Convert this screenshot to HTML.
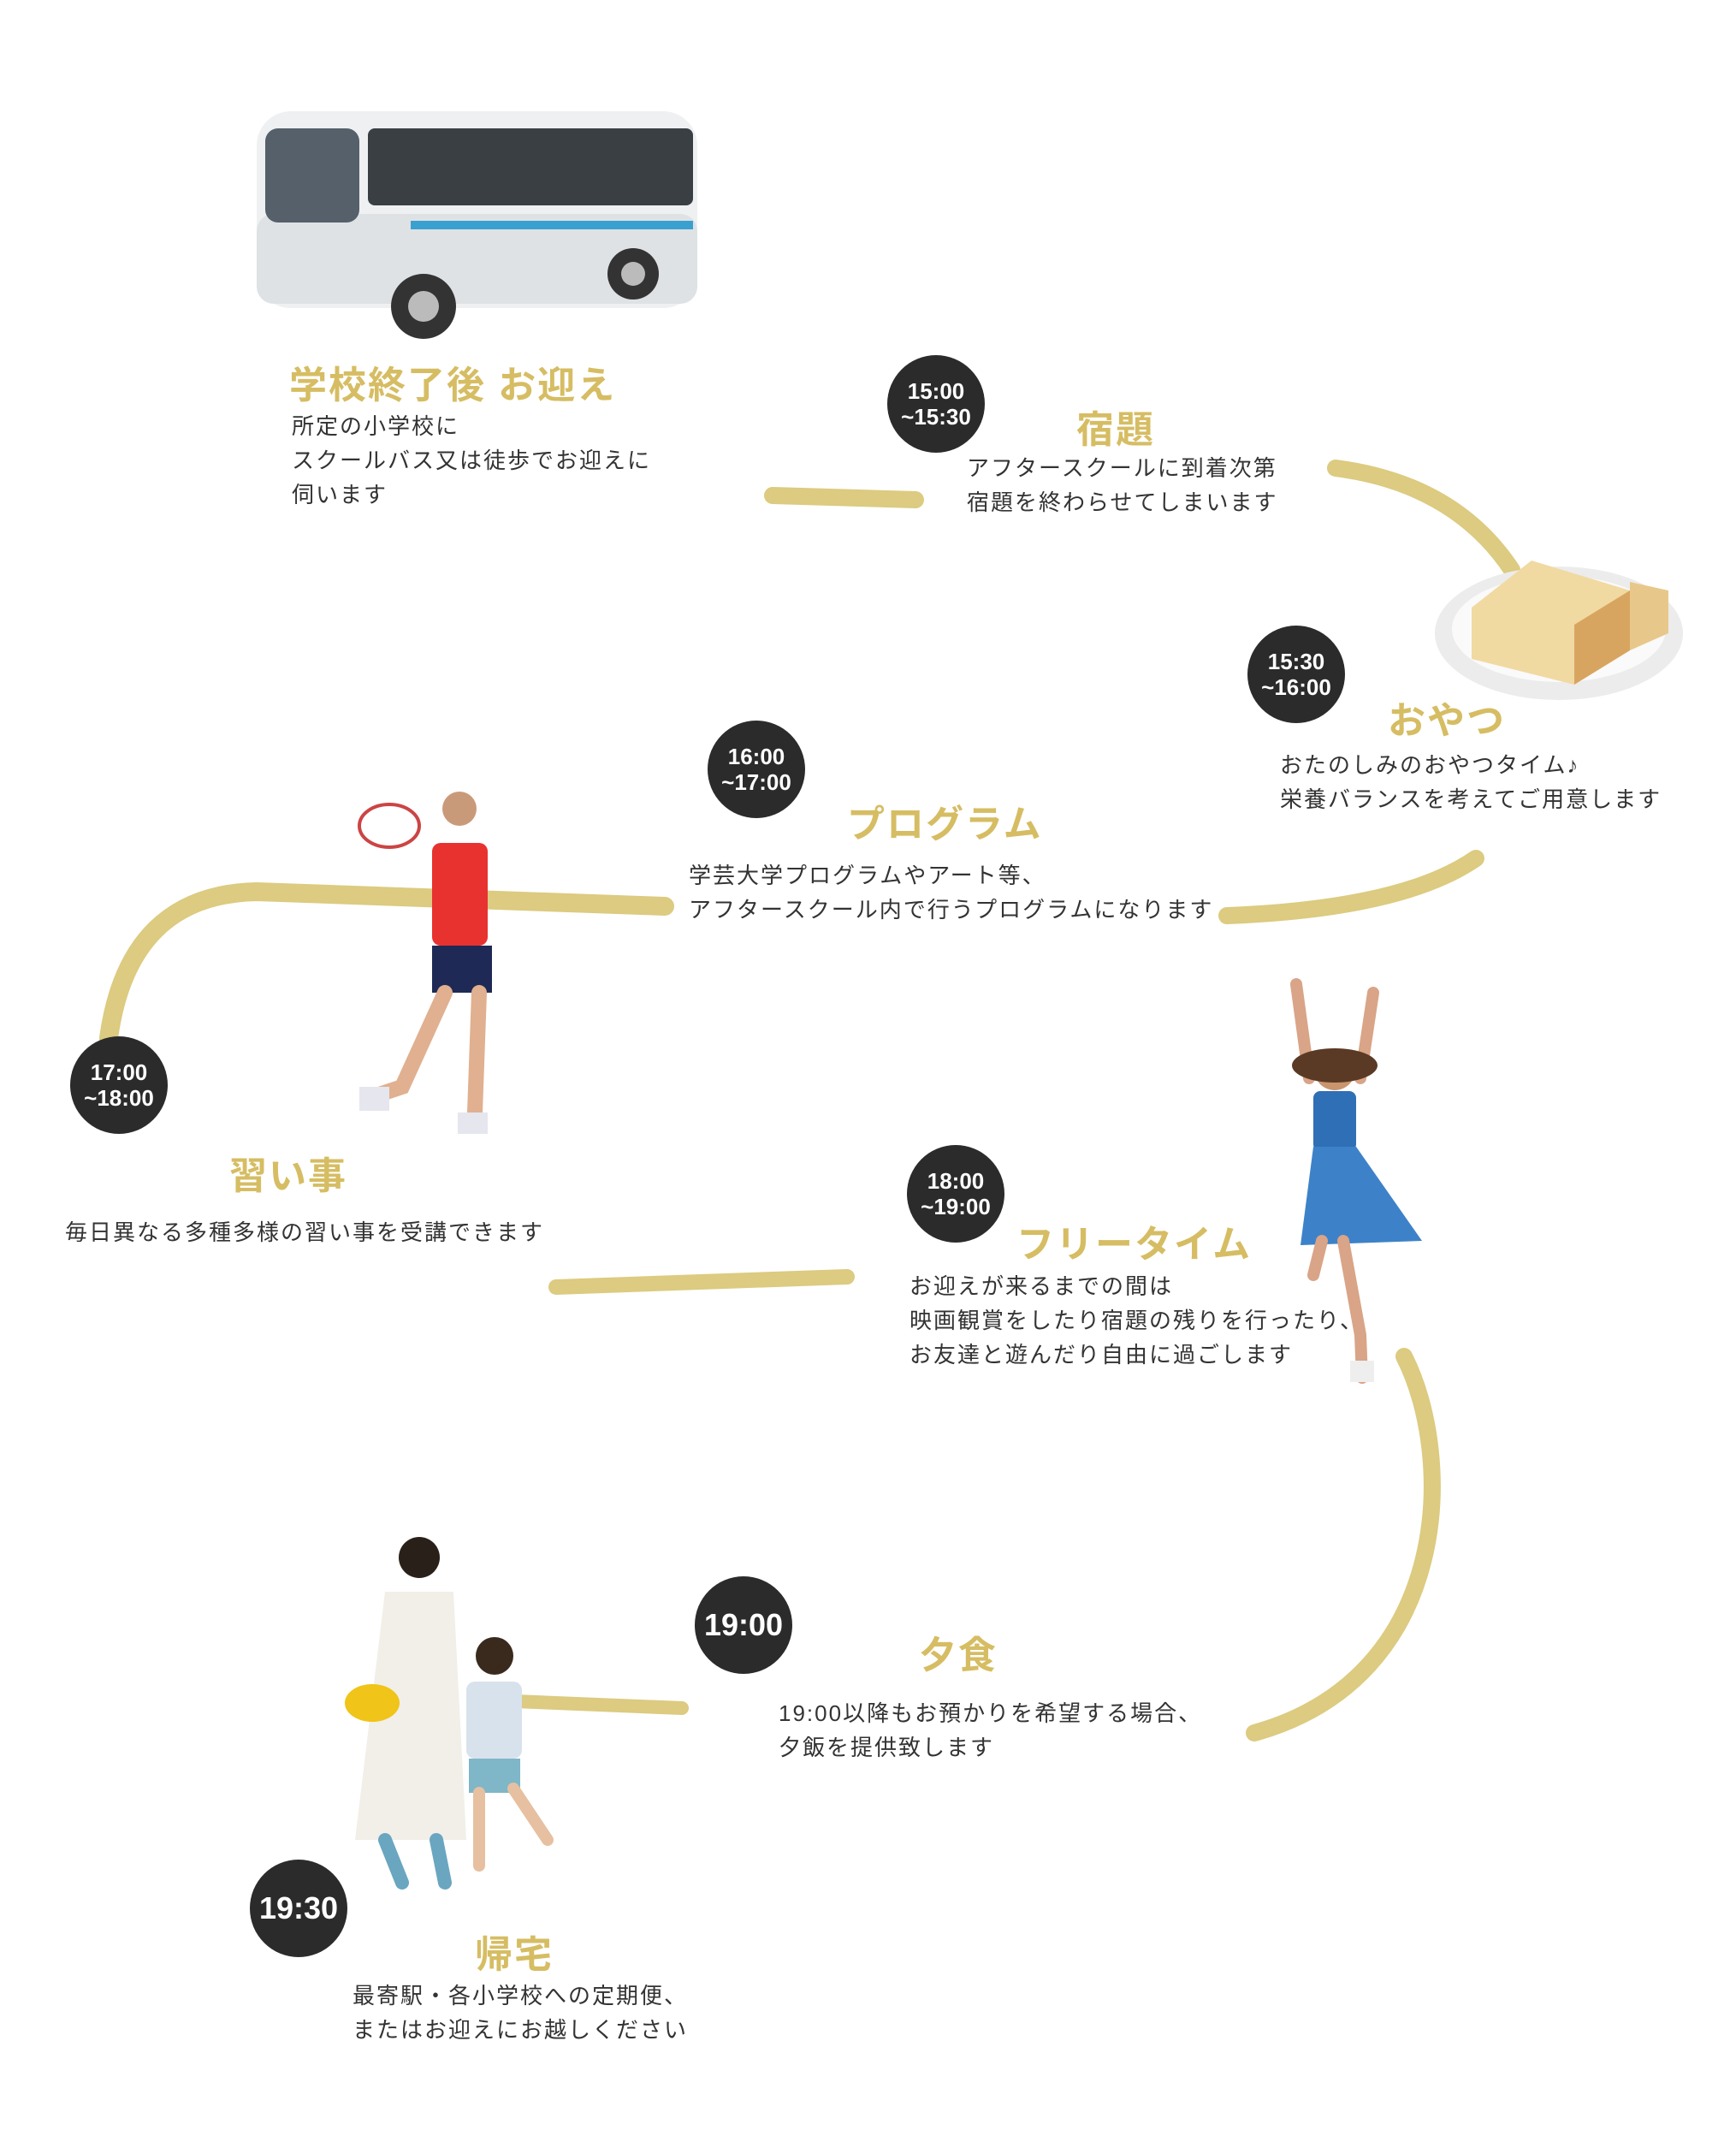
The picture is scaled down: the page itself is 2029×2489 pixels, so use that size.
<!DOCTYPE html>
<html><head><meta charset="utf-8"><style>
html,body{margin:0;padding:0;background:#fff;}
body{width:2029px;height:2489px;position:relative;overflow:hidden;font-family:"Liberation Sans","Noto Sans CJK JP",sans-serif;}
.t{position:absolute;color:#d6bd63;font-weight:bold;font-size:44px;white-space:nowrap;letter-spacing:2px;}
.b{position:absolute;color:#333;font-size:26px;line-height:40px;letter-spacing:2px;white-space:nowrap;}
.c{position:absolute;width:114px;height:114px;border-radius:50%;background:#2b2b2b;color:#fff;font-family:"Liberation Sans Narrow","Liberation Sans",sans-serif;font-weight:bold;font-size:26px;line-height:30px;text-align:center;display:flex;flex-direction:column;justify-content:center;}
.c.big{font-size:36px;}
svg{position:absolute;left:0;top:0;}
</style></head><body>
<svg width="2029" height="2489" fill="none" stroke="#dccb80" stroke-linecap="round">
<path d="M903,579 L1070,584" stroke-width="20"/>
<path d="M1561,547 Q1700,565 1767,666" stroke-width="20"/>
<path d="M1725,1003 Q1640,1062 1434,1070" stroke-width="20"/>
<path d="M777,1059 L300,1042 Q150,1045 127,1213" stroke-width="22"/>
<path d="M650,1504 L990,1492" stroke-width="18"/>
<path d="M1641,1585 C1700,1700 1700,1960 1466,2025" stroke-width="20"/>
<path d="M602,1988 L797,1996" stroke-width="16"/>
<g stroke="none">
<rect x="300" y="130" width="515" height="230" rx="40" fill="#eef0f2"/>
<rect x="300" y="250" width="515" height="105" rx="20" fill="#dfe2e5"/>
<rect x="430" y="150" width="380" height="90" rx="8" fill="#3a3f44"/>
<rect x="310" y="150" width="110" height="110" rx="15" fill="#55606a"/>
<rect x="480" y="258" width="330" height="10" fill="#3aa0d0"/>
<circle cx="495" cy="358" r="38" fill="#333"/><circle cx="495" cy="358" r="18" fill="#bbb"/>
<circle cx="740" cy="320" r="30" fill="#333"/><circle cx="740" cy="320" r="14" fill="#bbb"/>
</g>
<g stroke="none">
<ellipse cx="1822" cy="740" rx="145" ry="78" fill="#ececec"/>
<ellipse cx="1822" cy="735" rx="125" ry="62" fill="#fafafa"/>
<path d="M1720,710 L1790,655 L1905,690 L1905,760 L1840,800 L1720,770 Z" fill="#f1d9a2"/>
<path d="M1840,730 L1905,690 L1905,760 L1840,800 Z" fill="#d8a560"/>
<path d="M1905,680 L1950,690 L1950,740 L1905,760 Z" fill="#e8c88a"/>
</g>
<g stroke="none">
<ellipse cx="455" cy="965" rx="35" ry="25" fill="none" stroke="#c44" stroke-width="4"/>
<circle cx="537" cy="945" r="20" fill="#c99a7a"/>
<rect x="505" y="985" width="65" height="120" rx="10" fill="#e8322f"/>
<rect x="505" y="1105" width="70" height="55" fill="#1e2a55"/>
<path d="M520,1160 L470,1270 L440,1280" stroke="#e0b090" stroke-width="18"/>
<path d="M560,1160 L555,1300" stroke="#e0b090" stroke-width="18"/>
<rect x="420" y="1270" width="35" height="28" fill="#e6e6ee"/><rect x="535" y="1300" width="35" height="25" fill="#e6e6ee"/>
</g>
<g stroke="none">
<path d="M1515,1150 L1530,1260 M1605,1160 L1590,1260" stroke="#d9a487" stroke-width="14"/>
<circle cx="1560" cy="1250" r="24" fill="#c9956f"/>
<ellipse cx="1560" cy="1245" rx="50" ry="20" fill="#5a3a25"/>
<rect x="1535" y="1275" width="50" height="70" rx="8" fill="#2f6fb5"/>
<path d="M1535,1340 L1585,1340 L1662,1450 L1520,1455 Z" fill="#3d82c8"/>
<path d="M1570,1450 L1590,1560 L1592,1610" stroke="#d9a487" stroke-width="14"/>
<path d="M1545,1450 L1535,1490" stroke="#d9a487" stroke-width="14"/>
<rect x="1578" y="1590" width="28" height="25" fill="#eee"/>
</g>
<g stroke="none">
<circle cx="490" cy="1820" r="24" fill="#2a201a"/>
<path d="M450,1860 L530,1860 L545,2150 L415,2150 Z" fill="#f1efe8"/>
<path d="M450,2150 L470,2200 M510,2150 L520,2200" stroke="#6aa6c0" stroke-width="16"/>
<ellipse cx="435" cy="1990" rx="32" ry="22" fill="#f0c418"/>
<circle cx="578" cy="1935" r="22" fill="#3a2a1e"/>
<rect x="545" y="1965" width="65" height="90" rx="10" fill="#d8e2ec"/>
<rect x="548" y="2055" width="60" height="40" fill="#7fb6c8"/>
<path d="M560,2095 L560,2180 M600,2090 L640,2150" stroke="#e6c0a0" stroke-width="14"/>
</g>
</svg>

<div class="t" style="left:338px;top:414px;">学校終了後 お迎え</div>
<div class="b" style="left:341px;top:478px;">所定の小学校に<br>スクールバス又は徒歩でお迎えに<br>伺います</div>

<div class="c" style="left:1037px;top:415px;"><span>15:00</span><span>~15:30</span></div>
<div class="t" style="left:1258px;top:466px;">宿題</div>
<div class="b" style="left:1130px;top:527px;">アフタースクールに到着次第<br>宿題を終わらせてしまいます</div>

<div class="c" style="left:1458px;top:731px;"><span>15:30</span><span>~16:00</span></div>
<div class="t" style="left:1622px;top:806px;">おやつ</div>
<div class="b" style="left:1496px;top:874px;">おたのしみのおやつタイム♪<br>栄養バランスを考えてご用意します</div>

<div class="c" style="left:827px;top:842px;"><span>16:00</span><span>~17:00</span></div>
<div class="t" style="left:990px;top:927px;">プログラム</div>
<div class="b" style="left:805px;top:1003px;">学芸大学プログラムやアート等、<br>アフタースクール内で行うプログラムになります</div>

<div class="c" style="left:82px;top:1211px;"><span>17:00</span><span>~18:00</span></div>
<div class="t" style="left:268px;top:1338px;">習い事</div>
<div class="b" style="left:76px;top:1420px;">毎日異なる多種多様の習い事を受講できます</div>

<div class="c" style="left:1060px;top:1338px;"><span>18:00</span><span>~19:00</span></div>
<div class="t" style="left:1188px;top:1418px;">フリータイム</div>
<div class="b" style="left:1063px;top:1483px;">お迎えが来るまでの間は<br>映画観賞をしたり宿題の残りを行ったり、<br>お友達と遊んだり自由に過ごします</div>

<div class="c big" style="left:812px;top:1842px;"><span>19:00</span></div>
<div class="t" style="left:1074px;top:1898px;">夕食</div>
<div class="b" style="left:910px;top:1982px;">19:00以降もお預かりを希望する場合、<br>夕飯を提供致します</div>

<div class="c big" style="left:292px;top:2173px;"><span>19:30</span></div>
<div class="t" style="left:555px;top:2248px;">帰宅</div>
<div class="b" style="left:412px;top:2312px;">最寄駅・各小学校への定期便、<br>またはお迎えにお越しください</div>
</body></html>
